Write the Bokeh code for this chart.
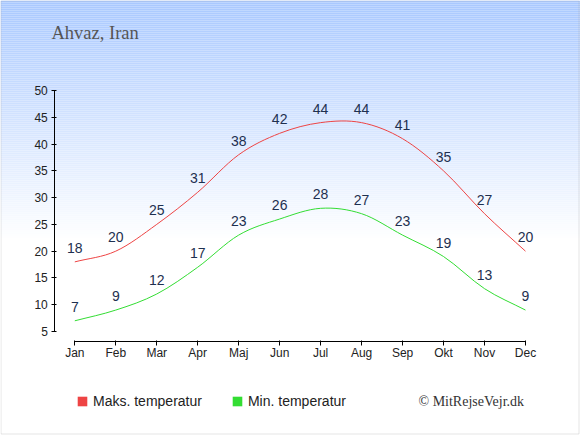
import numpy as np
from bokeh.plotting import figure
from bokeh.models import (Range1d, FixedTicker, LinearAxis, Legend, LegendItem, Label,
                          BoxAnnotation, ColumnDataSource)
from bokeh.core.properties import value
from bokeh.embed import file_html
from bokeh.resources import INLINE

# ---- data ----
months = ["Jan", "Feb", "Mar", "Apr", "Maj", "Jun", "Jul", "Aug", "Sep", "Okt", "Nov", "Dec"]
max_temp = [18, 20, 25, 31, 38, 42, 44, 44, 41, 35, 27, 20]
min_temp = [7, 9, 12, 17, 23, 26, 28, 27, 23, 19, 13, 9]
y_ticks = [5, 10, 15, 20, 25, 30, 35, 40, 45, 50]
title_text = "Ahvaz, Iran"
max_label = "Maks. temperatur"
min_label = "Min. temperatur"
credit_text = "© MitRejseVejr.dk"

# ---- styles ----
MAX_COLOR = "#ee4444"
MIN_COLOR = "#33dd33"
LABEL_COLOR = "#1e3050"
TICK_COLOR = "#222222"
SANS = "Liberation Sans"
SERIF = "Liberation Serif"

W, H = 580, 435
xs = list(range(len(months)))

# pixel geometry of the plot area (page pixels)
X_JAN, PX_PER_MONTH = 74.3, 40.97
Y_5, PX_PER_DEG = 331.0, 5.3556
x_lo = (0 - X_JAN) / PX_PER_MONTH
x_hi = (W - X_JAN) / PX_PER_MONTH
y_hi = 5 + (Y_5 - 0) / PX_PER_DEG
y_lo = 5 + (Y_5 - H) / PX_PER_DEG
yaxis_x = (54.3 - X_JAN) / PX_PER_MONTH
xaxis_y = 5 + (Y_5 - 341.0) / PX_PER_DEG

p = figure(width=W, height=H, output_backend="svg", toolbar_location=None,
           x_range=Range1d(x_lo, x_hi), y_range=Range1d(y_lo, y_hi),
           min_border=0, x_axis_location=None, y_axis_location=None)
p.grid.grid_line_color = None
p.outline_line_color = None
p.background_fill_alpha = 0
p.border_fill_color = "white"

# ---- gradient background (canvas units) ----
top_rgb = np.array([168.0, 200.0, 255.0])
step = 2
for y0 in range(0, 244, step):
    t = min((y0 + step / 2) / 240.0, 1.0)
    c = top_rgb + (255.0 - top_rgb) * t
    col = "#%02x%02x%02x" % tuple(int(round(v)) for v in c)
    p.add_layout(BoxAnnotation(left=0, right=W, top=y0, bottom=y0 + step,
                               left_units="canvas", right_units="canvas",
                               top_units="canvas", bottom_units="canvas",
                               fill_color=col, fill_alpha=1, line_color=None,
                               level="image"))

# ---- axes ----
xaxis = LinearAxis(ticker=FixedTicker(ticks=xs),
                   major_label_overrides={i: m for i, m in enumerate(months)},
                   bounds=(xs[0], xs[-1]), fixed_location=xaxis_y)
yaxis = LinearAxis(ticker=FixedTicker(ticks=y_ticks), bounds=(y_ticks[0], y_ticks[-1]),
                   fixed_location=yaxis_x)
for ax in (xaxis, yaxis):
    ax.axis_line_color = "#000000"
    ax.major_tick_line_color = "#000000"
    ax.minor_tick_line_color = None
    ax.major_label_text_font = SANS
    ax.major_label_text_font_size = "12px"
    ax.major_label_text_color = TICK_COLOR
xaxis.major_tick_in = 1
xaxis.major_tick_out = 4
xaxis.major_label_standoff = 0
yaxis.major_tick_in = 2
yaxis.major_tick_out = 3
yaxis.major_label_standoff = 4
p.add_layout(xaxis, "below")
p.add_layout(yaxis, "left")


# ---- smooth curves (cubic bezier segments through the data points) ----
def bezier_source(xv, yv):
    x = np.asarray(xv, dtype=float)
    y = np.asarray(yv, dtype=float)
    m = np.empty_like(y)
    m[1:-1] = (y[2:] - y[:-2]) / (x[2:] - x[:-2])
    m[0] = (y[1] - y[0]) / (x[1] - x[0])
    m[-1] = (y[-1] - y[-2]) / (x[-1] - x[-2])
    dx = x[1:] - x[:-1]
    return ColumnDataSource(dict(
        x0=x[:-1], y0=y[:-1], x1=x[1:], y1=y[1:],
        cx0=x[:-1] + dx / 3, cy0=y[:-1] + m[:-1] * dx / 3,
        cx1=x[1:] - dx / 3, cy1=y[1:] - m[1:] * dx / 3))


p.bezier(x0="x0", y0="y0", x1="x1", y1="y1", cx0="cx0", cy0="cy0", cx1="cx1", cy1="cy1",
         source=bezier_source(xs, max_temp), line_color=MAX_COLOR, line_width=1)
p.bezier(x0="x0", y0="y0", x1="x1", y1="y1", cx0="cx0", cy0="cy0", cx1="cx1", cy1="cy1",
         source=bezier_source(xs, min_temp), line_color=MIN_COLOR, line_width=1)

# ---- value labels ----
for series in (max_temp, min_temp):
    src = ColumnDataSource(dict(x=xs, y=series, t=[str(v) for v in series]))
    p.text(x="x", y="y", text="t", source=src, text_align="center", text_baseline="bottom",
           y_offset=-9, text_font=value(SANS), text_font_size="14px", text_color=LABEL_COLOR)

# ---- legend (swatch-only renderers with no drawable extent) ----
nan_box = dict(left=[np.nan], right=[np.nan], bottom=[np.nan], top=[np.nan])
r_max = p.quad(left="left", right="right", bottom="bottom", top="top",
               source=ColumnDataSource(dict(nan_box)), fill_color=MAX_COLOR, line_color=None)
r_min = p.quad(left="left", right="right", bottom="bottom", top="top",
               source=ColumnDataSource(dict(nan_box)), fill_color=MIN_COLOR, line_color=None)
legend = Legend(items=[LegendItem(label=max_label, renderers=[r_max]),
                       LegendItem(label=min_label, renderers=[r_min])],
                orientation="horizontal", location=(76, 26),
                glyph_width=12, glyph_height=12, label_standoff=5, spacing=29,
                padding=0, margin=0, border_line_color=None, background_fill_alpha=0,
                label_text_font=SANS, label_text_font_size="14px",
                label_text_color=TICK_COLOR, label_height=16)
p.add_layout(legend, "center")

# ---- title and credit ----
p.add_layout(Label(x=51, y=32, x_units="canvas", y_units="canvas", text=title_text,
                   text_font=SERIF, text_font_size="18.5px", text_color="#555555",
                   text_baseline="middle"))
p.add_layout(Label(x=418, y=401, x_units="canvas", y_units="canvas", text=credit_text,
                   text_font=SERIF, text_font_size="14px", text_color="#333333",
                   text_baseline="middle"))

# ---- outer border ----
p.add_layout(BoxAnnotation(left=0.5, right=W - 1.5, top=0.5, bottom=H - 1.5,
                           left_units="canvas", right_units="canvas",
                           top_units="canvas", bottom_units="canvas",
                           fill_alpha=0, line_color="#aaaaaa", line_width=1,
                           level="overlay"))

open("out.html", "w").write(file_html(p, INLINE))
